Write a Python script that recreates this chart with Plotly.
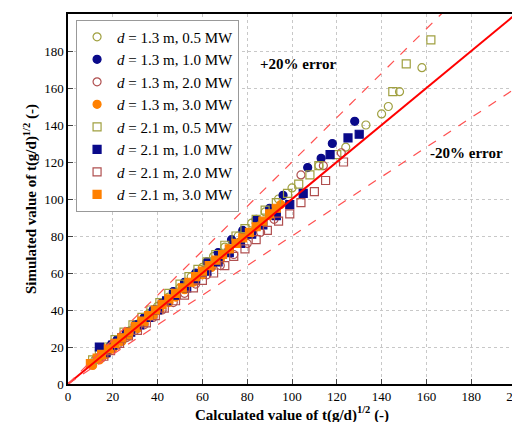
import plotly.graph_objects as go

# series data (calculated x, simulated y)
s13_05_x = [12, 16, 20, 24, 28, 32, 36, 40, 45, 50, 55, 60, 65, 70, 76, 82, 88, 94, 100, 112, 124, 133, 140, 143, 148, 158]
s13_05_y = [13, 17, 21, 25, 29, 33, 38, 42, 47, 52, 58, 63, 69, 74, 80, 87, 93, 100, 106, 118, 128, 140, 146, 150, 158, 171]
s13_10_x = [13, 16, 19, 22, 26, 30, 34, 38, 42, 47, 52, 57, 62, 67, 73, 78, 84, 90, 96, 107, 113, 118, 128]
s13_10_y = [14, 17, 21, 24, 28, 32, 36, 40, 44, 50, 55, 60, 66, 71, 78, 83, 89, 95, 102, 117, 122, 130, 142]
s13_20_x = [15, 18, 22, 26, 30, 34, 38, 42, 47, 52, 57, 62, 68, 74, 80, 86, 92, 104, 114, 122]
s13_20_y = [14, 18, 21, 25, 29, 32, 36, 40, 44, 49, 54, 59, 64, 70, 76, 82, 89, 113, 118, 125]
s13_30_x = [11, 14, 17, 20, 24, 27, 31, 34, 38, 41, 45, 48, 52, 56, 60, 64, 68, 72, 77, 81, 86, 90, 95]
s13_30_y = [10, 13, 16, 19, 23, 26, 30, 33, 37, 40, 44, 47, 51, 55, 59, 63, 67, 72, 77, 81, 86, 91, 97]
s21_05_x = [11, 14, 18, 21, 25, 29, 33, 37, 41, 45, 50, 54, 58, 62, 66, 70, 75, 79, 84, 88, 93, 98, 103, 108, 112, 120, 145, 151, 162]
s21_05_y = [13, 16, 20, 24, 28, 32, 36, 40, 44, 49, 54, 58, 62, 66, 70, 75, 80, 84, 89, 94, 98, 103, 108, 113, 118, 124, 158, 173, 186]
s21_10_x = [14, 17, 20, 24, 28, 32, 36, 40, 44, 48, 53, 57, 62, 67, 72, 77, 82, 87, 93, 99, 105, 117, 125, 130]
s21_10_y = [20, 17, 21, 25, 28, 32, 36, 40, 45, 48, 52, 57, 61, 66, 71, 76, 81, 86, 91, 97, 103, 124, 133, 135]
s21_20_x = [16, 19, 23, 27, 31, 35, 39, 43, 48, 52, 56, 60, 65, 70, 74, 79, 84, 89, 94, 99, 104, 110, 115, 123]
s21_20_y = [15, 18, 22, 26, 29, 33, 37, 41, 45, 48, 52, 56, 60, 64, 69, 73, 78, 83, 88, 92, 98, 104, 110, 120]
s21_30_x = [10, 13, 15, 18, 21, 24, 27, 30, 33, 36, 39, 42, 45, 48, 51, 54, 57, 60, 63, 66, 69, 72, 75, 78, 81, 84, 87, 90, 93]
s21_30_y = [11, 14, 16, 19, 22, 25, 28, 31, 34, 37, 40, 43, 46, 49, 52, 55, 58, 61, 64, 67, 70, 73, 76, 79, 82, 85, 88, 92, 95]

olive = "#a0a040"; navy = "#0a0a8a"; brick = "#b05050"; orange = "#ff8000"
series = [
    ("1.3", "0.5", s13_05_x, s13_05_y, "circle-open", olive),
    ("1.3", "1.0", s13_10_x, s13_10_y, "circle", navy),
    ("1.3", "2.0", s13_20_x, s13_20_y, "circle-open", brick),
    ("1.3", "3.0", s13_30_x, s13_30_y, "circle", orange),
    ("2.1", "0.5", s21_05_x, s21_05_y, "square-open", olive),
    ("2.1", "1.0", s21_10_x, s21_10_y, "square", navy),
    ("2.1", "2.0", s21_20_x, s21_20_y, "square-open", brick),
    ("2.1", "3.0", s21_30_x, s21_30_y, "square", orange),
]

fig = go.Figure()
for d, p, xs, ys, sym, c in series:
    fig.add_trace(go.Scatter(x=xs, y=ys, mode="markers", name=f"<i>d</i> = {d} m, {p} MW",
                             marker=dict(symbol=sym, color=c, size=8, line=dict(color=c, width=1.2))))

lx = [0, 200]
fig.add_trace(go.Scatter(x=lx, y=[0, 200], mode="lines", line=dict(color="red", width=2), showlegend=False))
fig.add_trace(go.Scatter(x=lx, y=[0, 240], mode="lines", line=dict(color="#ff5050", width=1.2, dash="dash"), showlegend=False))
fig.add_trace(go.Scatter(x=lx, y=[0, 160], mode="lines", line=dict(color="#ff5050", width=1.2, dash="dash"), showlegend=False))

font = "Liberation Serif"
ax = dict(range=[0, 200], dtick=20, showgrid=True, gridcolor="#c8c8c8", griddash="dot",
          showline=True, linecolor="black", linewidth=1.5, mirror=True, ticks="inside",
          ticklen=5, zeroline=False, tickfont=dict(family=font, size=13, color="black"))
fig.update_layout(
    width=520, height=422, margin=dict(l=60, r=12, t=6, b=46, autoexpand=False),
    plot_bgcolor="white", paper_bgcolor="white",
    xaxis=dict(**ax, title=dict(text="<b>Calculated value of t(g/d)<sup>1/2</sup> (-)</b>", font=dict(family=font, size=15, color="black"), standoff=4)),
    yaxis=dict(**ax, title=dict(text="<b>Simulated value of t(g/d)<sup>1/2</sup> (-)</b>", font=dict(family=font, size=15, color="black"), standoff=4)),
    legend=dict(x=0.018, y=0.985, xanchor="left", yanchor="top", bgcolor="white", bordercolor="#999",
                borderwidth=1, font=dict(family=font, size=15, color="black"), tracegroupgap=0),
    annotations=[
        dict(x=103, y=173, text="<b>+20% error</b>", showarrow=False, font=dict(family=font, size=15, color="black")),
        dict(x=178, y=125, text="<b>-20% error</b>", showarrow=False, font=dict(family=font, size=15, color="black")),
    ],
)
fig.write_html("out.html")
